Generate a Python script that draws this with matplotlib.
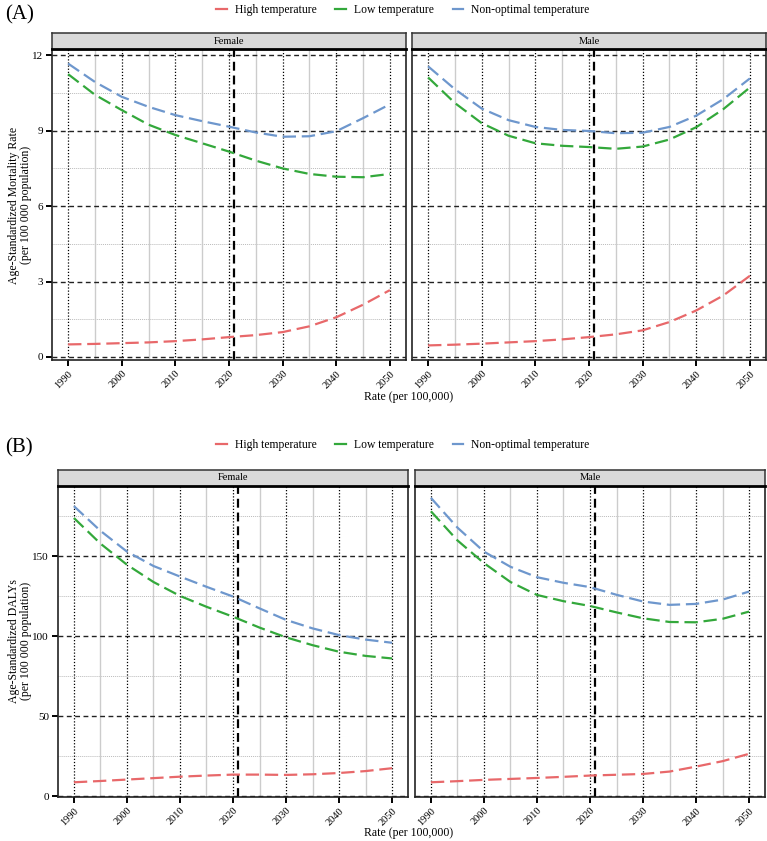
import numpy as np
import matplotlib
matplotlib.use('Agg')
import matplotlib.pyplot as plt
from matplotlib.lines import Line2D

plt.rcParams['font.family'] = ['Liberation Serif', 'DejaVu Serif']

years = [1990, 1995, 2000, 2005, 2010, 2015, 2020, 2025, 2030, 2035, 2040, 2045, 2050]
series_names = ['High temperature', 'Low temperature', 'Non-optimal temperature']
colores = ['#E8686A', '#33A83B', '#6E97CD']

# (A) mortalidad
mort_fem_high = [0.50, 0.52, 0.55, 0.58, 0.63, 0.70, 0.79, 0.87, 0.99, 1.22, 1.58, 2.08, 2.66]
mort_fem_low = [11.25, 10.43, 9.82, 9.24, 8.83, 8.50, 8.17, 7.81, 7.50, 7.28, 7.17, 7.15, 7.28]
mort_fem_non = [11.67, 10.94, 10.35, 9.95, 9.62, 9.38, 9.16, 8.93, 8.76, 8.78, 8.98, 9.50, 10.05]
mort_mal_high = [0.46, 0.49, 0.53, 0.58, 0.63, 0.70, 0.79, 0.90, 1.06, 1.39, 1.85, 2.44, 3.23]
mort_mal_low = [11.12, 10.10, 9.30, 8.80, 8.50, 8.40, 8.35, 8.28, 8.37, 8.65, 9.14, 9.85, 10.72]
mort_mal_non = [11.56, 10.65, 9.88, 9.42, 9.15, 9.03, 8.99, 8.90, 8.92, 9.15, 9.60, 10.25, 11.08]

# (B) DALYs
daly_fem_high = [8.8, 9.6, 10.5, 11.4, 12.3, 13.0, 13.6, 13.6, 13.4, 13.8, 14.6, 15.8, 17.6]
daly_fem_low = [174.0, 158.0, 144.8, 134.0, 125.3, 118.5, 112.3, 105.5, 99.4, 94.5, 90.4, 87.8, 86.2]
daly_fem_non = [181.4, 166.0, 153.0, 144.0, 137.4, 131.0, 124.9, 117.5, 110.3, 105.0, 100.8, 98.0, 96.0]
daly_mal_high = [8.8, 9.5, 10.3, 10.9, 11.5, 12.2, 13.0, 13.5, 14.0, 15.5, 18.6, 22.0, 26.6]
daly_mal_low = [178.2, 160.0, 145.8, 134.0, 125.9, 122.0, 119.0, 115.0, 111.3, 109.0, 108.8, 111.0, 115.5]
daly_mal_non = [186.6, 168.0, 153.0, 143.5, 137.0, 133.5, 130.8, 126.0, 121.8, 119.7, 120.3, 123.0, 128.0]

x_ticks = [1990, 2000, 2010, 2020, 2030, 2040, 2050]
x_minor = [1995, 2005, 2015, 2025, 2035, 2045]
year_line = 2021

W, H = 767, 841


def px_axes(fig, left, top, right, bottom):
    return fig.add_axes([left / W, 1 - bottom / H, (right - left) / W, (bottom - top) / H])


def panel(fig, box, titulo, datos, yticks, yminor, ylim, show_y):
    left, top, right, bottom = box
    ax = px_axes(fig, left, top, right, bottom)
    # tira gris con el titulo
    st = px_axes(fig, left, top - 16, right, top)
    st.set_facecolor('#D9D9D9')
    st.set_xticks([])
    st.set_yticks([])
    for s in st.spines.values():
        s.set_color('#333333')
        s.set_linewidth(1.1)
    st.spines['bottom'].set_color('black')
    st.spines['bottom'].set_linewidth(2.0)
    st.text(0.5, 0.5, titulo, ha='center', va='center', fontsize=7.5, transform=st.transAxes)

    for yv in yminor:
        ax.axhline(yv, color='#BBBBBB', lw=0.7, ls=(0, (1, 1)), zorder=0)
    for xv in x_minor:
        ax.axvline(xv, color='#CCCCCC', lw=1.0, zorder=0)
    for xv in x_ticks:
        ax.axvline(xv, color='black', lw=0.9, ls=(0, (1, 1.5)), zorder=1)
    for yv in yticks:
        ax.axhline(yv, color='#222222', lw=1.0, ls=(0, (3.5, 2.5)), zorder=1)
    ax.axvline(year_line, color='black', lw=1.6, ls=(0, (4, 2.2)), zorder=2)

    for vals, c in zip(datos, colores):
        ax.plot(years, vals, color=c, lw=1.6, ls=(0, (6, 2.6)), zorder=3)

    ax.set_xlim(1987, 2053)
    ax.set_ylim(*ylim)
    ax.set_xticks(x_ticks)
    ax.set_xticklabels([str(v) for v in x_ticks], rotation=45, ha='right', va='top',
                       rotation_mode='anchor', fontsize=7.5)
    ax.set_yticks(yticks)
    if show_y:
        ax.set_yticklabels([str(v) for v in yticks], fontsize=8)
        ax.tick_params(axis='y', length=4.5, width=1.4, color='black', pad=2)
    else:
        ax.tick_params(axis='y', length=0, labelleft=False)
    ax.tick_params(axis='x', length=4.5, width=1.4, color='black', pad=2)
    for s in ax.spines.values():
        s.set_color('#222222')
        s.set_linewidth(1.2)
    return ax


fig = plt.figure(figsize=(W / 100, H / 100), dpi=100)

# Panel A
datos_a_f = [mort_fem_high, mort_fem_low, mort_fem_non]
datos_a_m = [mort_mal_high, mort_mal_low, mort_mal_non]
ylim_a = (-0.12, 12.25)
panel(fig, (52, 49, 406, 360), 'Female', datos_a_f, [0, 3, 6, 9, 12], [1.5, 4.5, 7.5, 10.5], ylim_a, True)
panel(fig, (412, 49, 766, 360), 'Male', datos_a_m, [0, 3, 6, 9, 12], [1.5, 4.5, 7.5, 10.5], ylim_a, False)

# Panel B
datos_b_f = [daly_fem_high, daly_fem_low, daly_fem_non]
datos_b_m = [daly_mal_high, daly_mal_low, daly_mal_non]
ylim_b = (-0.4, 194)
panel(fig, (58, 486, 408, 797), 'Female', datos_b_f, [0, 50, 100, 150], [25, 75, 125, 175], ylim_b, True)
panel(fig, (415, 486, 765, 797), 'Male', datos_b_m, [0, 50, 100, 150], [25, 75, 125, 175], ylim_b, False)

# textos
fig.text(5 / W, 1 - 15 / H, '(A)', fontsize=15, ha='left', va='center')
fig.text(5 / W, 1 - 448 / H, '(B)', fontsize=15, ha='left', va='center')
fig.text(20 / W, 1 - 205 / H, 'Age-Standardized Mortality Rate\n(per 100 000 population)',
         rotation=90, ha='center', va='center', fontsize=8.5, linespacing=1.0)
fig.text(20 / W, 1 - 641 / H, 'Age-Standardized DALYs\n(per 100 000 population)',
         rotation=90, ha='center', va='center', fontsize=8.5, linespacing=1.0)
fig.text(409 / W, 1 - 397 / H, 'Rate (per 100,000)', ha='center', va='center', fontsize=8.5)
fig.text(409 / W, 1 - 833 / H, 'Rate (per 100,000)', ha='center', va='center', fontsize=8.5)

handles = [Line2D([0], [0], color=c, lw=1.6) for c in colores]
for yc in (10, 445):
    fig.legend(handles, series_names, loc='center', bbox_to_anchor=(403 / W, 1 - yc / H),
               ncol=3, frameon=False, fontsize=8.4, handlelength=0.9, handletextpad=0.7,
               columnspacing=1.6)

fig.savefig('out.png', dpi=100)
